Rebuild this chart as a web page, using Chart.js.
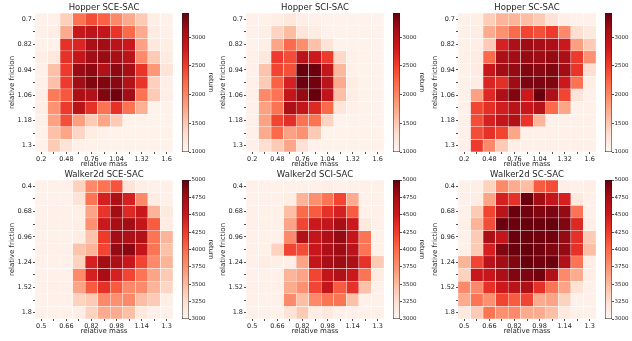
<!DOCTYPE html>
<html>
<head>
<meta charset="utf-8">
<script src="https://cdn.jsdelivr.net/npm/chart.js@4.4.0/dist/chart.umd.min.js"></script>
<style>
    html, body { margin: 0; padding: 0; background: #ffffff; }
    body { width: 632px; height: 341px; position: relative; overflow: hidden; }
    .box { position: absolute; }
</style>
</head>
<body>
<script>
/* ========================================
   Heatmaps of return vs. relative mass / friction
   ======================================== */

// axis tick labels (every other one is printed)
const hopperMass = ['0.2', '0.34', '0.48', '0.62', '0.76', '0.9', '1.04', '1.18', '1.32', '1.46', '1.6'];
const hopperFriction = ['0.7', '0.76', '0.82', '0.88', '0.94', '1.0', '1.06', '1.12', '1.18', '1.24', '1.3'];
const walkerMass = ['0.5', '0.58', '0.66', '0.74', '0.82', '0.9', '0.98', '1.06', '1.14', '1.22', '1.3'];
const walkerFriction = ['0.4', '0.54', '0.68', '0.82', '0.96', '1.1', '1.24', '1.38', '1.52', '1.66', '1.8'];

// colorbar ranges and ticks
const hopperRange = [1000, 3420];
const walkerRange = [3000, 5000];
const hopperReturnTicks = [1000, 1500, 2000, 2500, 3000];
const walkerReturnTicks = [3000, 3250, 3500, 3750, 4000, 4250, 4500, 4750, 5000];

// returns, one row per friction value (top to bottom), one column per mass value
const hopperSCE = [
    [1070, 1070, 1440, 2140, 2400, 2260, 1970, 1730, 1480, 1100, 1070],
    [1070, 1100, 1730, 2840, 2940, 2890, 2570, 2210, 1730, 1150, 1070],
    [1070, 1070, 2600, 2690, 3080, 3130, 2960, 2820, 1800, 1190, 1100],
    [1100, 1190, 2600, 2890, 3130, 3180, 3110, 2960, 1970, 1480, 1150],
    [1070, 1560, 2520, 3180, 3230, 3030, 3230, 3110, 2570, 1870, 1240],
    [1070, 1560, 2520, 3130, 3300, 3300, 3250, 3010, 2570, 1440, 1100],
    [1100, 2090, 2330, 3080, 3030, 3300, 3370, 3130, 2140, 1480, 1100],
    [1100, 1900, 2520, 2960, 2600, 2140, 2600, 2140, 1680, 1050, 1050],
    [1070, 1800, 2380, 1820, 1480, 1770, 1480, 1050, 1050, 1050, 1050],
    [1050, 1560, 1770, 1390, 1120, 1070, 1050, 1050, 1050, 1050, 1050],
    [1050, 1480, 1240, 1070, 1050, 1050, 1050, 1050, 1050, 1050, 1050]
];
const hopperSCI = [
    [1070, 1070, 1100, 1190, 1100, 1070, 1050, 1050, 1050, 1050, 1050],
    [1070, 1100, 1410, 1600, 1220, 1120, 1050, 1050, 1050, 1050, 1050],
    [1050, 1100, 1770, 2210, 1940, 1560, 1240, 1050, 1050, 1050, 1050],
    [1070, 1190, 2520, 2400, 2960, 2820, 2520, 1360, 1070, 1050, 1050],
    [1070, 1530, 2450, 2380, 3420, 3400, 2890, 1630, 1070, 1050, 1050],
    [1070, 1480, 2260, 2740, 3400, 3370, 2960, 1730, 1120, 1050, 1050],
    [1070, 1970, 2140, 2890, 3200, 3420, 2910, 1580, 1100, 1050, 1050],
    [1070, 1800, 2140, 3060, 2890, 2670, 2210, 1220, 1070, 1050, 1050],
    [1070, 1800, 2450, 2620, 2140, 2140, 1410, 1050, 1050, 1050, 1050],
    [1070, 1730, 2210, 1800, 1920, 1480, 1050, 1050, 1050, 1050, 1050],
    [1070, 1310, 1480, 1770, 1270, 1050, 1050, 1050, 1050, 1050, 1050]
];
const hopperSC = [
    [1070, 1100, 1460, 1650, 1650, 1580, 1480, 1270, 1100, 1070, 1070],
    [1070, 1120, 1730, 1920, 2210, 2450, 2380, 2520, 1970, 1310, 1170],
    [1070, 1100, 1480, 2740, 3060, 3150, 3110, 3080, 2820, 1820, 1480],
    [1070, 1150, 2210, 3080, 3130, 3200, 3150, 3200, 3080, 2520, 1920],
    [1070, 1150, 2840, 3130, 3200, 3300, 3250, 3300, 3130, 2570, 1310],
    [1070, 1120, 2690, 2620, 3150, 3320, 3320, 3300, 2820, 2140, 1100],
    [1070, 1800, 2670, 3060, 3300, 2820, 3420, 3060, 2450, 1240, 1070],
    [1070, 2450, 2620, 2770, 2960, 2840, 2980, 2210, 1770, 1070, 1070],
    [1070, 2400, 2740, 2890, 3030, 2570, 1650, 1070, 1070, 1070, 1070],
    [1070, 2400, 2600, 2450, 1770, 1070, 1070, 1070, 1070, 1070, 1070],
    [1070, 2520, 1970, 1480, 1100, 1070, 1070, 1070, 1070, 1070, 1070]
];
const walkerSCE = [
    [3060, 3060, 3060, 3340, 3800, 3940, 4120, 3200, 3080, 3060, 3060],
    [3060, 3060, 3060, 3220, 3940, 4440, 4700, 4440, 3800, 3100, 3060],
    [3060, 3060, 3060, 3080, 3640, 4300, 4760, 4380, 4520, 3540, 3140],
    [3060, 3060, 3060, 3080, 3760, 4500, 4740, 4760, 4560, 4080, 3120],
    [3060, 3060, 3060, 3100, 3440, 4260, 4760, 4700, 4680, 3940, 3540],
    [3060, 3060, 3060, 3440, 3540, 4200, 4820, 4860, 4560, 3940, 3460],
    [3060, 3060, 3060, 3340, 4440, 4760, 4700, 4520, 4200, 3800, 3540],
    [3060, 3060, 3060, 3800, 4440, 4740, 4440, 4200, 3940, 3640, 3400],
    [3060, 3060, 3060, 3640, 4080, 4320, 4080, 3800, 3800, 3540, 3320],
    [3060, 3060, 3060, 3340, 3400, 3800, 3760, 3800, 3480, 3400, 3080],
    [3060, 3060, 3060, 3080, 3340, 3600, 3600, 3480, 3140, 3060, 3060]
];
const walkerSCI = [
    [3060, 3060, 3060, 3060, 3060, 3060, 3080, 3060, 3060, 3060, 3060],
    [3060, 3060, 3060, 3080, 3540, 3760, 3940, 4200, 3600, 3060, 3060],
    [3060, 3060, 3060, 3480, 4000, 4080, 4320, 4440, 4080, 3060, 3060],
    [3060, 3060, 3060, 3640, 4200, 4500, 4560, 4740, 4500, 3140, 3060],
    [3060, 3060, 3060, 3800, 4680, 4560, 4700, 4820, 4560, 3940, 3060],
    [3060, 3060, 3340, 4200, 4160, 4520, 4700, 4780, 4620, 3940, 3060],
    [3060, 3100, 3080, 3080, 3640, 4560, 4740, 4780, 4720, 4320, 3400],
    [3060, 3060, 3060, 3540, 3640, 4200, 4560, 4680, 4500, 3940, 3120],
    [3060, 3060, 3060, 3600, 3760, 4200, 4560, 4080, 4320, 3460, 3060],
    [3060, 3060, 3060, 3800, 3480, 3800, 3940, 3940, 3460, 3060, 3060],
    [3060, 3060, 3060, 3220, 3400, 3100, 3140, 3060, 3060, 3060, 3060]
];
const walkerSC = [
    [3060, 3080, 3340, 3800, 3600, 3480, 4080, 4160, 3080, 3060, 3080],
    [3060, 3100, 3640, 4440, 4320, 4980, 4760, 4560, 4440, 3140, 3060],
    [3060, 3400, 4200, 4620, 4980, 4960, 4900, 4920, 4820, 3940, 3060],
    [3060, 3540, 4160, 4980, 4980, 5000, 4980, 5000, 4900, 4380, 3080],
    [3060, 3400, 4720, 4560, 4980, 4980, 4960, 4960, 4820, 4320, 3400],
    [3060, 3400, 4440, 4900, 4980, 5000, 4960, 4900, 4820, 4320, 3480],
    [3540, 4200, 4620, 4760, 4900, 5000, 4960, 4980, 4680, 3940, 3080],
    [3340, 4520, 4520, 4720, 4900, 4920, 4960, 4680, 3800, 3600, 3080],
    [3800, 3800, 4320, 4500, 4620, 4700, 4320, 3940, 3640, 3220, 3060],
    [3600, 3940, 3760, 4200, 4080, 4200, 3600, 3640, 3340, 3060, 3060],
    [3140, 3400, 3940, 3760, 3800, 3600, 3600, 3480, 3140, 3060, 3060]
];

// matplotlib "Reds"
const REDS = ['#fff5f0', '#fee0d2', '#fcbba1', '#fc9272', '#fb6a4a', '#ef3b2c', '#cb181d', '#a50f15', '#67000d'];
const FONT = 'DejaVu Sans';
const TEXT = '#262626';

Chart.defaults.font.family = FONT;
Chart.defaults.color = TEXT;

function hexToRgb(h) {
    return [1, 3, 5].map(i => parseInt(h.slice(i, i + 2), 16));
}

function reds(t) {
    t = Math.max(0, Math.min(1, t));
    const s = t * (REDS.length - 1);
    const i = Math.min(Math.floor(s), REDS.length - 2);
    const f = s - i;
    const a = hexToRgb(REDS[i]);
    const b = hexToRgb(REDS[i + 1]);
    const c = a.map((v, k) => Math.round(v + (b[k] - v) * f));
    return `rgb(${c[0]}, ${c[1]}, ${c[2]})`;
}

function addCanvas(left, top, width, height) {
    const div = document.createElement('div');
    div.className = 'box';
    div.style.left = left + 'px';
    div.style.top = top + 'px';
    div.style.width = width + 'px';
    div.style.height = height + 'px';
    const canvas = document.createElement('canvas');
    div.appendChild(canvas);
    document.body.appendChild(div);
    return canvas;
}

// title centred over the plot area, not the whole canvas
const panelTitle = {
    id: 'panelTitle',
    afterDraw(chart, args, opts) {
        const { ctx, chartArea } = chart;
        ctx.save();
        ctx.fillStyle = TEXT;
        ctx.font = `${opts.size}px "${FONT}"`;
        ctx.textAlign = 'center';
        ctx.textBaseline = 'middle';
        ctx.fillText(opts.text, (chartArea.left + chartArea.right) / 2, chartArea.top - opts.offset);
        ctx.restore();
    }
};

const PLOT_W = 138;
const PLOT_H = 139;

const panels = [
    { title: 'Hopper SCE-SAC', values: hopperSCE, mass: hopperMass, friction: hopperFriction, range: hopperRange, cbTicks: hopperReturnTicks, x: 35, y: 13, cbX: 182 },
    { title: 'Hopper SCI-SAC', values: hopperSCI, mass: hopperMass, friction: hopperFriction, range: hopperRange, cbTicks: hopperReturnTicks, x: 246, y: 13, cbX: 393 },
    { title: 'Hopper SC-SAC', values: hopperSC, mass: hopperMass, friction: hopperFriction, range: hopperRange, cbTicks: hopperReturnTicks, x: 458, y: 13, cbX: 605 },
    { title: 'Walker2d SCE-SAC', values: walkerSCE, mass: walkerMass, friction: walkerFriction, range: walkerRange, cbTicks: walkerReturnTicks, x: 35, y: 180, cbX: 182 },
    { title: 'Walker2d SCI-SAC', values: walkerSCI, mass: walkerMass, friction: walkerFriction, range: walkerRange, cbTicks: walkerReturnTicks, x: 246, y: 180, cbX: 393 },
    { title: 'Walker2d SC-SAC', values: walkerSC, mass: walkerMass, friction: walkerFriction, range: walkerRange, cbTicks: walkerReturnTicks, x: 458, y: 180, cbX: 605 }
];

function drawHeatmap(p) {
    const padL = 35, padR = 6, titleH = 14, axisH = 20;
    const canvas = addCanvas(p.x - padL, p.y - titleH, padL + PLOT_W + padR, titleH + PLOT_H + axisH);
    const [vmin, vmax] = p.range;

    // each friction row is one stacked dataset; cell colour comes from its return
    const datasets = p.values.map((row, r) => ({
        label: p.friction[r],
        data: row.map(() => 1),
        backgroundColor: row.map(v => reds((v - vmin) / (vmax - vmin))),
        borderColor: '#ffffff',
        borderWidth: 0.5,
        borderSkipped: false,
        barPercentage: 1,
        categoryPercentage: 1
    }));

    new Chart(canvas, {
        type: 'bar',
        data: { labels: p.mass, datasets },
        plugins: [panelTitle],
        options: {
            responsive: true,
            maintainAspectRatio: false,
            animation: false,
            layout: { padding: { left: 0, right: padR, top: titleH, bottom: 0 } },
            plugins: {
                legend: { display: false },
                tooltip: { enabled: false },
                panelTitle: { text: p.title, size: 8.5, offset: 5 }
            },
            scales: {
                x: {
                    stacked: true,
                    offset: true,
                    border: { display: false },
                    grid: { display: true, offset: false, drawOnChartArea: false, drawTicks: true, tickLength: 2, color: TEXT, lineWidth: 0.8 },
                    ticks: {
                        autoSkip: false,
                        maxRotation: 0,
                        padding: 1,
                        font: { size: 6.5 },
                        callback: (v, i) => (i % 2 === 0 ? p.mass[i] : '')
                    },
                    title: { display: true, text: 'relative mass', font: { size: 7 }, padding: { top: 0, bottom: 3.5 } },
                    afterFit: s => { s.height = axisH; }
                },
                y: {
                    stacked: true,
                    reverse: true,
                    min: 0,
                    max: p.friction.length,
                    border: { display: false },
                    grid: { display: true, drawOnChartArea: false, drawTicks: true, tickLength: 2, color: TEXT, lineWidth: 0.8 },
                    afterBuildTicks: s => { s.ticks = p.friction.map((f, i) => ({ value: i + 0.5 })); },
                    ticks: {
                        padding: 1,
                        font: { size: 6.5 },
                        callback: (v, i) => (i % 2 === 0 ? p.friction[i] : '')
                    },
                    title: { display: true, text: 'relative friction', font: { size: 7 }, padding: { top: 8.3, bottom: 0 } },
                    afterFit: s => { s.width = padL; }
                }
            }
        }
    });
}

function drawColorbar(p) {
    const padV = 6, barW = 7, axisW = 33;
    const canvas = addCanvas(p.cbX, p.y - padV, barW + axisW, PLOT_H + 2 * padV);
    const [vmin, vmax] = p.range;

    new Chart(canvas, {
        type: 'bar',
        data: {
            labels: ['return'],
            datasets: [{
                data: [[vmin, vmax]],
                backgroundColor: c => {
                    const { ctx, chartArea } = c.chart;
                    if (!chartArea) return null;
                    const g = ctx.createLinearGradient(0, chartArea.bottom, 0, chartArea.top);
                    REDS.forEach((col, i) => g.addColorStop(i / (REDS.length - 1), col));
                    return g;
                },
                borderColor: '#1a1a1a',
                borderWidth: 0.8,
                borderSkipped: false,
                barPercentage: 1,
                categoryPercentage: 1
            }]
        },
        options: {
            responsive: true,
            maintainAspectRatio: false,
            animation: false,
            layout: { padding: { left: 0, right: 0, top: padV, bottom: padV } },
            plugins: { legend: { display: false }, tooltip: { enabled: false } },
            scales: {
                x: { display: false },
                y: {
                    position: 'right',
                    min: vmin,
                    max: vmax,
                    border: { display: false },
                    grid: { display: true, drawOnChartArea: false, drawTicks: true, tickLength: 2, color: TEXT, lineWidth: 0.8 },
                    afterBuildTicks: s => { s.ticks = p.cbTicks.map(v => ({ value: v })); },
                    ticks: { padding: 0.5, font: { size: 5.5 }, callback: v => String(v) },
                    title: { display: true, text: 'return', font: { size: 6.5 }, padding: { top: 7.5, bottom: 0 } },
                    afterFit: s => { s.width = axisW; }
                }
            }
        }
    });
}

panels.forEach(p => {
    drawHeatmap(p);
    drawColorbar(p);
});
</script>
</body>
</html>
